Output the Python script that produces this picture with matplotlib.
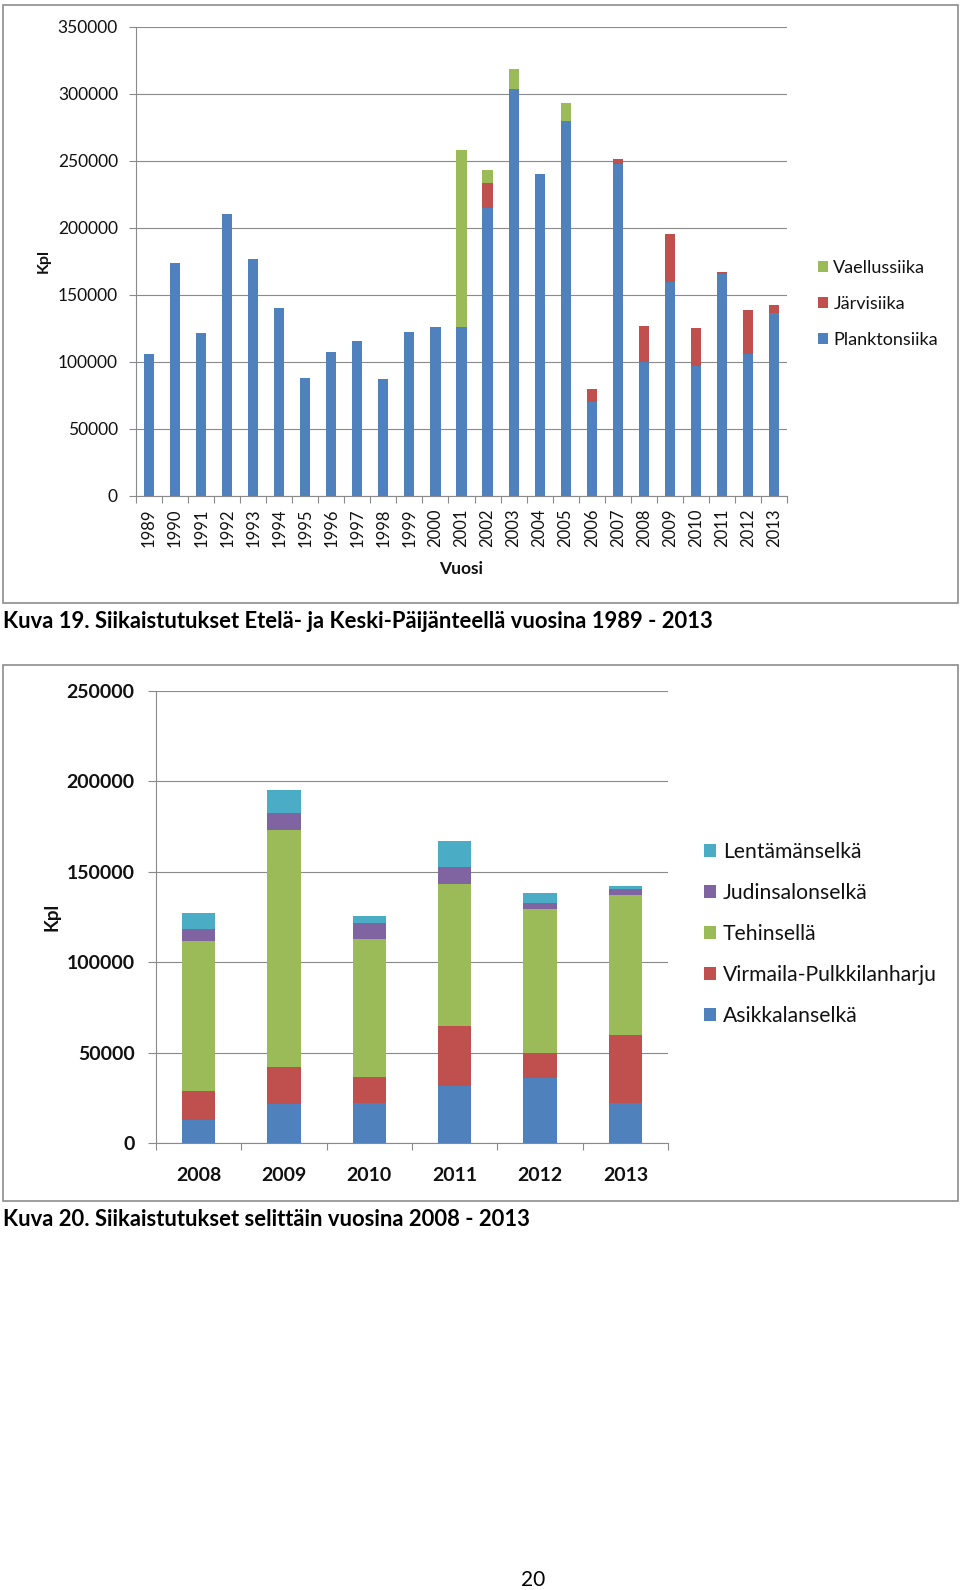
import matplotlib
matplotlib.use("Agg")
import matplotlib.pyplot as plt
from matplotlib.patches import Rectangle

# ---------------- data ----------------
years1 = ["1989", "1990", "1991", "1992", "1993", "1994", "1995", "1996", "1997",
          "1998", "1999", "2000", "2001", "2002", "2003", "2004", "2005", "2006",
          "2007", "2008", "2009", "2010", "2011", "2012", "2013"]
planktonsiika = [105500, 173400, 121200, 210200, 176400, 140300, 88100, 107000, 115700,
                 87100, 121900, 125900, 125900, 214500, 303300, 240300, 279900, 70200,
                 247300, 100000, 159500, 96800, 165400, 105700, 136100]
jarvisiika = [0, 0, 0, 0, 0, 0, 0, 0, 0,
              0, 0, 0, 0, 19100, 0, 0, 0, 9400,
              3700, 26900, 35800, 28600, 1500, 32600, 6400]
vaellussiika = [0, 0, 0, 0, 0, 0, 0, 0, 0,
                0, 0, 0, 132100, 9700, 14900, 0, 13400, 0,
                0, 0, 0, 0, 0, 0, 0]
yticks1 = [0, 50000, 100000, 150000, 200000, 250000, 300000, 350000]

years2 = ["2008", "2009", "2010", "2011", "2012", "2013"]
asikkalanselka = [12900, 21500, 22100, 31800, 35900, 22100]
virmaila = [15800, 20500, 14500, 33000, 13800, 37700]
tehinsella = [83000, 131000, 76400, 78200, 79700, 77200]
judinsalonselka = [6700, 9600, 8900, 9400, 3100, 3500]
lentamanselka = [8800, 12700, 3700, 14600, 5800, 1800]
yticks2 = [0, 50000, 100000, 150000, 200000, 250000]

caption1 = "Kuva 19. Siikaistutukset Etelä- ja Keski-Päijänteellä vuosina 1989 - 2013"
caption2 = "Kuva 20. Siikaistutukset selittäin vuosina 2008 - 2013"
page_no = "20"

# ---------------- style ----------------
BLUE, RED, GREEN, PURPLE, CYAN = "#4F81BD", "#C0504D", "#9BBB59", "#8064A2", "#4BACC6"
GRID = "#8a8a8a"
BORDER = "#8c8c8c"
TXT = "#111111"

plt.rcParams["font.family"] = ["Lato", "DejaVu Sans"]

W, H = 960, 1590
fig = plt.figure(figsize=(W / 100, H / 100), dpi=100)


def px_axes(x0, y0, x1, y1):
    return fig.add_axes([x0 / W, 1 - y1 / H, (x1 - x0) / W, (y1 - y0) / H])


def frame(x0, y0, x1, y1):
    fig.patches.append(Rectangle((x0 / W, 1 - y1 / H), (x1 - x0) / W, (y1 - y0) / H,
                                 transform=fig.transFigure, fill=False,
                                 edgecolor=BORDER, linewidth=1.2, zorder=0))


def style_axes(ax, n, ymax, yticks, bold, ysize, ypad, ytl):
    ax.set_xlim(-0.5, n - 0.5)
    ax.set_ylim(0, ymax)
    ax.set_yticks(yticks)
    ax.set_yticklabels([str(v) for v in yticks], fontsize=ysize,
                       fontweight="bold" if bold else "normal", color=TXT)
    ax.yaxis.grid(True, color=GRID, linewidth=0.8)
    ax.set_axisbelow(True)
    for s in ("top", "right"):
        ax.spines[s].set_visible(False)
    for s in ("left", "bottom"):
        ax.spines[s].set_color(GRID)
        ax.spines[s].set_linewidth(0.8)
    ax.tick_params(axis="y", direction="out", length=ytl, width=0.8, color=GRID, pad=ypad)
    ax.set_xticks([i + 0.5 for i in range(-1, n)], minor=True)
    ax.tick_params(axis="x", which="minor", direction="out", length=5, width=0.8, color=GRID)
    ax.tick_params(axis="x", which="major", length=0)


# ---------------- chart 1 ----------------
frame(3, 4.5, 957.5, 602.5)
ax1 = px_axes(136, 26.7, 787, 495.7)
x1 = list(range(len(years1)))
bw1 = 0.39
ax1.bar(x1, planktonsiika, width=bw1, color=BLUE, label="Planktonsiika", zorder=3)
ax1.bar(x1, jarvisiika, width=bw1, bottom=planktonsiika, color=RED, label="Järvisiika", zorder=3)
bottom_v = [a + b for a, b in zip(planktonsiika, jarvisiika)]
ax1.bar(x1, vaellussiika, width=bw1, bottom=bottom_v, color=GREEN, label="Vaellussiika", zorder=3)
style_axes(ax1, len(years1), 350000, yticks1, False, 12.5, 8, 5)
ax1.set_xticks(x1)
ax1.set_xticklabels(years1, rotation=90, fontsize=12, color=TXT, va="top")
ax1.tick_params(axis="x", which="major", pad=9)
ax1.set_xlabel("Vuosi", fontsize=12.5, fontweight="bold", color=TXT)
ax1.xaxis.set_label_coords(0.5, -(561 - 495.7) / 469)
ax1.set_ylabel("Kpl", fontsize=11.5, fontweight="bold", color=TXT)
ax1.yaxis.set_label_coords((51 - 136) / 651, 0.5)
h1, l1 = ax1.get_legend_handles_labels()
leg1 = ax1.legend(h1[::-1], l1[::-1], loc="center left",
                  bbox_to_anchor=(818 / W, 1 - 304 / H), bbox_transform=fig.transFigure,
                  frameon=False, fontsize=13, handlelength=0.55, handleheight=0.55,
                  handletextpad=0.3, labelspacing=1.1, borderpad=0, borderaxespad=0)
for t in leg1.get_texts():
    t.set_color(TXT)

# ---------------- chart 2 ----------------
frame(3, 665, 957.5, 1200.5)
ax2 = px_axes(156, 690.7, 668, 1143.3)
x2 = list(range(len(years2)))
bw2 = 0.39
series2 = [(asikkalanselka, BLUE, "Asikkalanselkä"),
           (virmaila, RED, "Virmaila-Pulkkilanharju"),
           (tehinsella, GREEN, "Tehinsellä"),
           (judinsalonselka, PURPLE, "Judinsalonselkä"),
           (lentamanselka, CYAN, "Lentämänselkä")]
base = [0] * len(years2)
for vals, col, lab in series2:
    ax2.bar(x2, vals, width=bw2, bottom=base, color=col, label=lab, zorder=3)
    base = [b + v for b, v in zip(base, vals)]
style_axes(ax2, len(years2), 250000, yticks2, True, 14, 9.5, 6)
ax2.set_xticks(x2)
ax2.set_xticklabels(years2, fontsize=14, fontweight="bold", color=TXT)
ax2.tick_params(axis="x", which="major", pad=17)
ax2.set_ylabel("Kpl", fontsize=13.5, fontweight="bold", color=TXT)
ax2.yaxis.set_label_coords((61 - 156) / 512, 0.5)
h2, l2 = ax2.get_legend_handles_labels()
leg2 = ax2.legend(h2[::-1], l2[::-1], loc="center left",
                  bbox_to_anchor=(704 / W, 1 - 934 / H), bbox_transform=fig.transFigure,
                  frameon=False, fontsize=15.2, handlelength=0.58, handleheight=0.58,
                  handletextpad=0.32, labelspacing=1.0, borderpad=0, borderaxespad=0)
for t in leg2.get_texts():
    t.set_color(TXT)

# ---------------- captions ----------------
renderer = fig.canvas.get_renderer()


def fit_text(x, y, s, target_w, size, **kw):
    t = fig.text(x / W, 1 - y / H, s, fontsize=size, va="center", ha="left", **kw)
    w = t.get_window_extent(renderer).width
    t.set_fontsize(size * target_w / w)
    return t


fit_text(3, 621.5, caption1, 714, 14, fontweight="bold", color="black")
fit_text(3, 1220, caption2, 530, 14, fontweight="bold", color="black")
fig.text(533 / W, 1 - 1580 / H, page_no, fontsize=15, ha="center", va="center", color="black")

fig.savefig("out.png", dpi=100, facecolor="white")
